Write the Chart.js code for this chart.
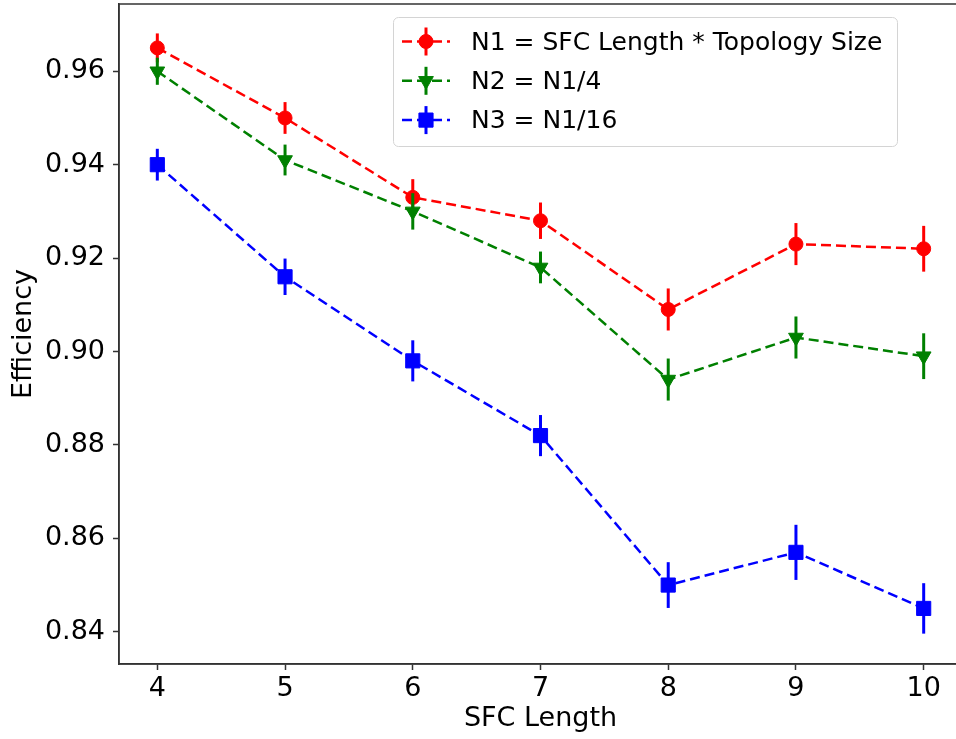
<!DOCTYPE html>
<html>
<head>
<meta charset="utf-8">
<script src="https://cdn.jsdelivr.net/npm/chart.js@4.4.0/dist/chart.umd.min.js"></script>
<style>
  html, body { margin: 0; padding: 0; background: #fff; overflow: hidden; }
  #wrap { width: 956px; height: 739px; overflow: hidden; }
  canvas { display: block; }
</style>
</head>
<body>
<div id="wrap"><canvas id="chart" width="964" height="739"></canvas></div>
<script>
// values
const sfcLength = [4, 5, 6, 7, 8, 9, 10];
const n1Values = [0.965, 0.950, 0.933, 0.928, 0.909, 0.923, 0.922];
const n1Errors = [0.0031, 0.0034, 0.0039, 0.0039, 0.0045, 0.0045, 0.0049];
const n2Values = [0.960, 0.941, 0.930, 0.918, 0.894, 0.903, 0.899];
const n2Errors = [0.0029, 0.0033, 0.0039, 0.0034, 0.0045, 0.0045, 0.0049];
const n3Values = [0.940, 0.916, 0.898, 0.882, 0.850, 0.857, 0.845];
const n3Errors = [0.0034, 0.0039, 0.0044, 0.0044, 0.0049, 0.0059, 0.0054];
const xTicks = [4, 5, 6, 7, 8, 9, 10];
const yTicks = [0.84, 0.86, 0.88, 0.90, 0.92, 0.94, 0.96];
const seriesLabels = ['N1 = SFC Length * Topology Size', 'N2 = N1/4', 'N3 = N1/16'];

const FONT = "'DejaVu Sans', sans-serif";
const AXIS = '#333333';

Chart.defaults.font.family = FONT;
Chart.defaults.font.size = 27;
Chart.defaults.color = '#000';

function points(values) {
  return sfcLength.map((x, i) => ({ x: x, y: values[i] }));
}

// vertical error bars, drawn through the library's y scale
const errorBars = {
  id: 'errorBars',
  afterDatasetDraw(chart, args) {
    const ds = chart.data.datasets[args.index];
    const yScale = chart.scales.y;
    const ctx = chart.ctx;
    ctx.save();
    ctx.strokeStyle = ds.borderColor;
    ctx.lineWidth = 3;
    args.meta.data.forEach((pt, i) => {
      const v = ds.data[i].y;
      const e = ds.errors[i];
      ctx.beginPath();
      ctx.moveTo(pt.x, yScale.getPixelForValue(v + e));
      ctx.lineTo(pt.x, yScale.getPixelForValue(v - e));
      ctx.stroke();
    });
    ctx.restore();
  }
};

// top/right spines like matplotlib's axes frame
const frame = {
  id: 'frame',
  afterDatasetsDraw(chart) {
    const { ctx, chartArea: a } = chart;
    ctx.save();
    ctx.strokeStyle = AXIS;
    ctx.lineWidth = 1.5;
    ctx.strokeRect(a.left, a.top, a.right - a.left, a.bottom - a.top);
    ctx.restore();
  }
};

// matplotlib style legend box with line + errorbar + marker samples
const legendBox = {
  id: 'legendBox',
  afterDraw(chart) {
    const ctx = chart.ctx;
    const x0 = 393, y0 = 17, w = 504, h = 129;
    ctx.save();
    ctx.beginPath();
    ctx.roundRect(x0 + 0.5, y0 + 0.5, w, h, 5);
    ctx.fillStyle = 'rgba(255,255,255,0.8)';
    ctx.fill();
    ctx.strokeStyle = '#d4d4d4';
    ctx.lineWidth = 1;
    ctx.stroke();

    chart.data.datasets.forEach((ds, i) => {
      const cy = 41.5 + i * 39.3;
      ctx.strokeStyle = ds.borderColor;
      ctx.fillStyle = ds.backgroundColor;
      ctx.lineWidth = 2.5;
      ctx.setLineDash([10, 5]);
      ctx.beginPath();
      ctx.moveTo(402, cy);
      ctx.lineTo(450, cy);
      ctx.stroke();
      ctx.setLineDash([]);
      ctx.lineWidth = 3;
      ctx.beginPath();
      ctx.moveTo(426, cy - 14);
      ctx.lineTo(426, cy + 14);
      ctx.stroke();
      ctx.lineWidth = 1;
      Chart.helpers.drawPoint(ctx, {
        pointStyle: ds.pointStyle,
        radius: ds.pointRadius,
        rotation: ds.pointRotation || 0,
        borderWidth: 1
      }, 426, cy);

      ctx.fillStyle = '#000';
      ctx.font = '25px ' + FONT;
      ctx.textBaseline = 'alphabetic';
      ctx.textAlign = 'left';
      ctx.fillText(ds.label, 471, cy + 8);
    });
    ctx.restore();
  }
};

const ctx = document.getElementById('chart').getContext('2d');

new Chart(ctx, {
  type: 'line',
  data: {
    datasets: [
      {
        label: seriesLabels[0],
        data: points(n1Values),
        errors: n1Errors,
        borderColor: '#ff0000',
        backgroundColor: '#ff0000',
        pointStyle: 'circle',
        pointRadius: 7,
        order: 3
      },
      {
        label: seriesLabels[1],
        data: points(n2Values),
        errors: n2Errors,
        borderColor: '#008000',
        backgroundColor: '#008000',
        pointStyle: 'triangle',
        pointRotation: 180,
        pointRadius: 8.5,
        order: 2
      },
      {
        label: seriesLabels[2],
        data: points(n3Values),
        errors: n3Errors,
        borderColor: '#0000ff',
        backgroundColor: '#0000ff',
        pointStyle: 'rect',
        pointRadius: 10,
        order: 1
      }
    ]
  },
  options: {
    responsive: false,
    animation: false,
    devicePixelRatio: 1,
    layout: { autoPadding: false, padding: { left: 0, right: 2, top: 4, bottom: 0 } },
    elements: {
      line: { borderWidth: 2.5, borderDash: [10, 5], tension: 0, fill: false },
      point: { borderWidth: 1, hoverRadius: 7 }
    },
    scales: {
      x: {
        type: 'linear',
        bounds: 'data',
        min: 3.7,
        max: 10.3,
        afterBuildTicks: s => { s.ticks = xTicks.map(v => ({ value: v })); },
        afterFit: s => { s.height = 75; s.paddingLeft = 0; s.paddingRight = 0; },
        grid: { display: true, drawOnChartArea: false, drawTicks: true, tickLength: 6, tickWidth: 1.5, tickColor: AXIS },
        border: { display: true, color: AXIS, width: 1.5 },
        ticks: { padding: 3, maxRotation: 0, autoSkip: false, callback: v => String(v) },
        title: { display: true, text: 'SFC Length', padding: { top: 0, bottom: 4 } }
      },
      y: {
        type: 'linear',
        bounds: 'data',
        min: 0.8331,
        max: 0.9744,
        afterBuildTicks: s => { s.ticks = yTicks.map(v => ({ value: v })); },
        afterFit: s => { s.width = 119; s.paddingTop = 0; s.paddingBottom = 0; },
        grid: { display: true, drawOnChartArea: false, drawTicks: true, tickLength: 6, tickWidth: 1.5, tickColor: AXIS },
        border: { display: true, color: AXIS, width: 1.5 },
        ticks: { padding: 8, autoSkip: false, callback: v => v.toFixed(2) },
        title: { display: true, text: 'Efficiency', padding: { top: 8, bottom: 0 } }
      }
    },
    plugins: {
      legend: { display: false },
      tooltip: { enabled: false }
    }
  },
  plugins: [errorBars, frame, legendBox]
});
</script>
</body>
</html>
